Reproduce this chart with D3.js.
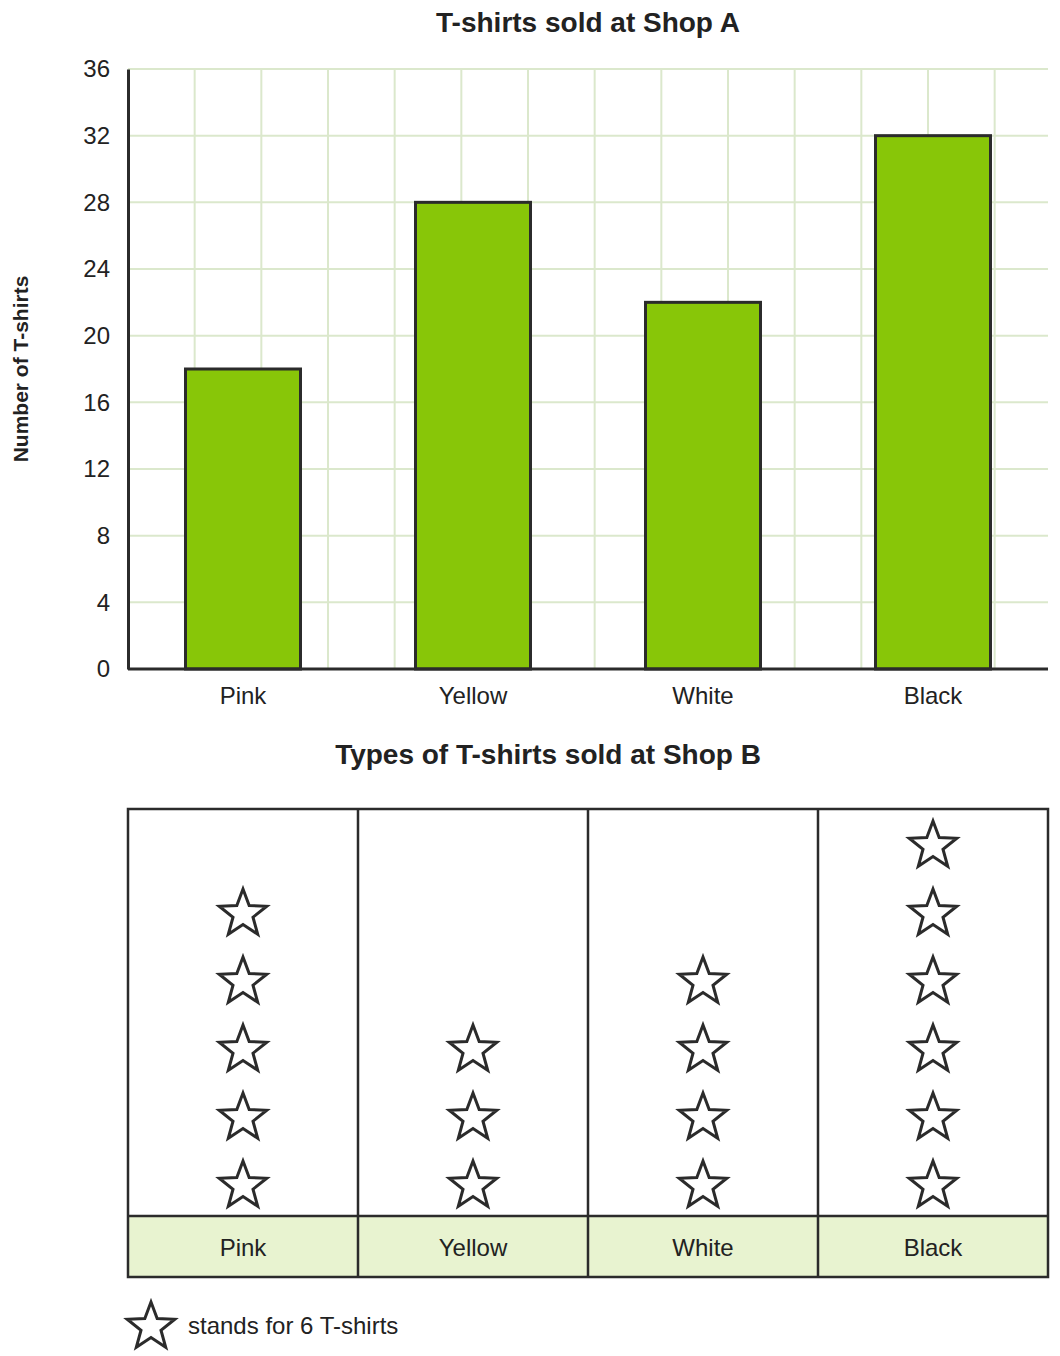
<!DOCTYPE html>
<html><head><meta charset="utf-8">
<script src="https://cdn.jsdelivr.net/npm/d3@7"></script>
<style>body{margin:0;background:#fff}text{font-family:"Liberation Sans",Arial,sans-serif;fill:#222}</style>
</head><body>
<svg id="chart" width="1060" height="1356"></svg>
<script>
const categories = ["Pink", "Yellow", "White", "Black"];
const shopA = [18, 28, 22, 32];
const shopBStars = [5, 3, 4, 6];
const yTicks = [0, 4, 8, 12, 16, 20, 24, 28, 32, 36];
const starValue = 6;

const svg = d3.select("#chart");
const plotLeft = 128, plotRight = 1048, plotTop = 69, plotBottom = 669;
const dark = "#2b2b2b";

const x = d3.scaleBand().domain(categories).range([plotLeft, plotRight]).paddingInner(0.5).paddingOuter(0.25);
const xCol = d3.scaleBand().domain(categories).range([plotLeft, plotRight]);
const y = d3.scaleLinear().domain([0, 36]).range([plotBottom, plotTop]);

svg.append("text").attr("x", 588).attr("y", 32).attr("text-anchor", "middle")
    .attr("font-size", 28).attr("font-weight", "bold").text("T-shirts sold at Shop A");

// grid
const cell = y(0) - y(4);
const grid = svg.append("g").attr("stroke", "#dbe8cc").attr("stroke-width", 2);
for (let gx = plotLeft + cell; gx < plotRight; gx += cell) {
    grid.append("line").attr("x1", gx).attr("x2", gx).attr("y1", plotTop).attr("y2", plotBottom);
}
yTicks.forEach(t => grid.append("line").attr("x1", plotLeft).attr("x2", plotRight).attr("y1", y(t)).attr("y2", y(t)));

svg.append("g").selectAll("rect").data(shopA).join("rect")
    .attr("x", (d, i) => x(categories[i])).attr("width", x.bandwidth())
    .attr("y", d => y(d)).attr("height", d => y(0) - y(d))
    .attr("fill", "#88c608").attr("stroke", dark).attr("stroke-width", 3);

const yAxis = svg.append("g").attr("transform", `translate(${plotLeft},0)`)
    .call(d3.axisLeft(y).tickValues(yTicks).tickSize(0).tickPadding(18));
yAxis.select(".domain").attr("stroke", dark).attr("stroke-width", 3);
yAxis.selectAll("text").attr("font-size", 24).attr("fill", "#222");

const xAxis = svg.append("g").attr("transform", `translate(0,${plotBottom})`)
    .call(d3.axisBottom(xCol).tickSize(0).tickPadding(18));
xAxis.select(".domain").attr("stroke", dark).attr("stroke-width", 3).attr("d", `M${plotLeft},0H${plotRight}`);
xAxis.selectAll("text").attr("font-size", 24).attr("fill", "#222");

svg.append("text").attr("transform", "translate(28,369) rotate(-90)").attr("text-anchor", "middle")
    .attr("font-size", 21).attr("font-weight", "bold").text("Number of T-shirts");

// Shop B pictograph
svg.append("text").attr("x", 548).attr("y", 764).attr("text-anchor", "middle")
    .attr("font-size", 28).attr("font-weight", "bold").text("Types of T-shirts sold at Shop B");

const tTop = 809, tMid = 1216, tBot = 1277;
svg.append("g").selectAll("rect").data(categories).join("rect")
    .attr("x", d => xCol(d)).attr("width", xCol.bandwidth())
    .attr("y", tMid).attr("height", tBot - tMid).attr("fill", "#e8f3d0");
const tbl = svg.append("g").attr("stroke", dark).attr("stroke-width", 2.5).attr("fill", "none");
tbl.append("rect").attr("x", plotLeft).attr("y", tTop).attr("width", plotRight - plotLeft).attr("height", tBot - tTop);
tbl.append("line").attr("x1", plotLeft).attr("x2", plotRight).attr("y1", tMid).attr("y2", tMid);
categories.slice(1).forEach(c => tbl.append("line").attr("x1", xCol(c)).attr("x2", xCol(c)).attr("y1", tTop).attr("y2", tBot));
svg.append("g").selectAll("text").data(categories).join("text")
    .attr("x", d => xCol(d) + xCol.bandwidth() / 2).attr("y", 1256).attr("text-anchor", "middle")
    .attr("font-size", 24).text(d => d);

function starPath(r) {
    const pts = [];
    for (let i = 0; i < 10; i++) {
        const rr = i % 2 ? r * 0.42 : r;
        const a = -Math.PI / 2 + i * Math.PI / 5;
        pts.push([rr * Math.cos(a), rr * Math.sin(a)]);
    }
    return "M" + pts.join("L") + "Z";
}
const star = starPath(25);
const rowY = i => 1186 - i * 68;
categories.forEach((c, ci) => {
    d3.range(shopBStars[ci]).forEach(i => {
        svg.append("path").attr("d", star)
            .attr("transform", `translate(${xCol(c) + xCol.bandwidth() / 2},${rowY(i)})`)
            .attr("fill", "none").attr("stroke", dark).attr("stroke-width", 3);
    });
});

svg.append("path").attr("d", star).attr("transform", "translate(151,1327)")
    .attr("fill", "none").attr("stroke", dark).attr("stroke-width", 3);
svg.append("text").attr("x", 188).attr("y", 1334).attr("font-size", 24).text(`stands for ${starValue} T-shirts`);
</script>
</body></html>
